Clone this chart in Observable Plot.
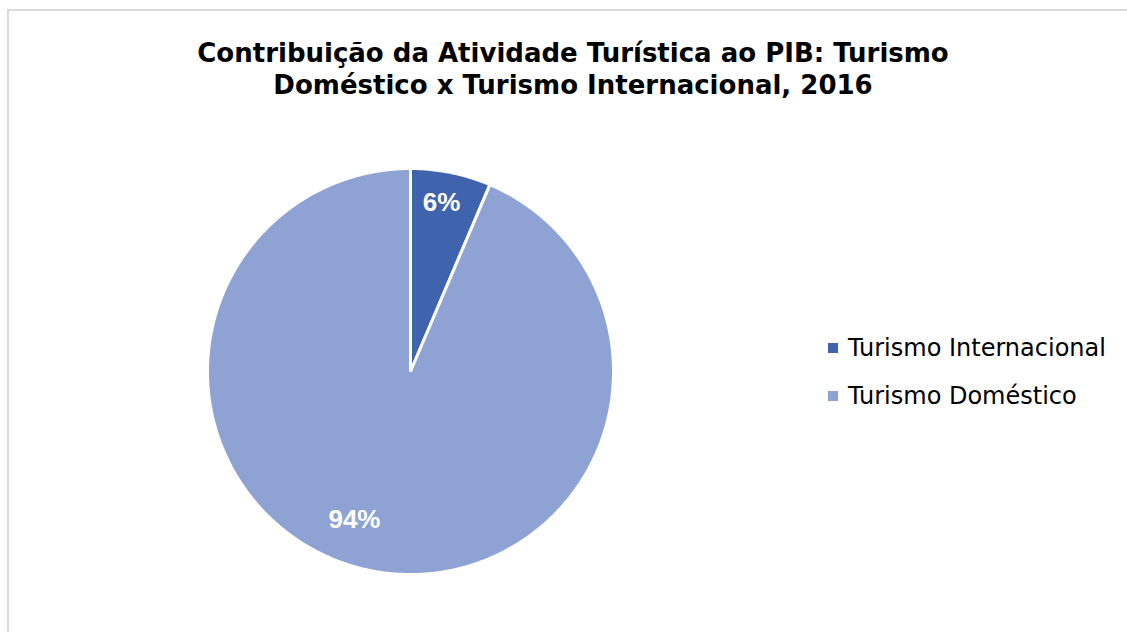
<!DOCTYPE html>
<html><head><meta charset="utf-8">
<script src="https://cdn.jsdelivr.net/npm/d3@7"></script>
<script src="https://cdn.jsdelivr.net/npm/@observablehq/plot@0.6"></script>
<style>
body{margin:0;background:#fff;}
#wrap{position:relative;width:1127px;height:632px;overflow:hidden;font-family:"DejaVu Sans",sans-serif;background:#fff;}
#frame{position:absolute;left:7px;top:9px;width:1140px;height:640px;border:2px solid #d9d9d9;box-sizing:border-box;}
#title{position:absolute;left:0;width:1146px;top:37px;text-align:center;font-weight:bold;font-size:26px;line-height:32px;color:#000;}
#chart{position:absolute;left:200px;top:161px;}
#legend{position:absolute;left:828px;top:324px;font-size:24px;color:#000;}
.item{display:flex;align-items:center;height:48px;}
.sw{width:10px;height:10px;margin-right:10px;}
</style></head>
<body>
<div id="wrap">
  <div id="frame"></div>
  <div id="title">Contribuição da Atividade Turística ao PIB: Turismo<br>Doméstico x Turismo Internacional, 2016</div>
  <div id="chart"></div>
  <div id="legend"></div>
</div>
<script>
const categories = ["Turismo Internacional", "Turismo Doméstico"];
const values = [6.4, 93.6];
const labels = ["6%", "94%"];
const colors = ["#3F63AD", "#8EA3D4"];
const labelNudge = [[-3, -2], [-22, -19]]; // pixel nudges for data labels (style)

const total = d3.sum(values);
const polys = [];
const cents = [];
let acc = 0;
categories.forEach((c, i) => {
  const a0 = acc / total * 2 * Math.PI;
  acc += values[i];
  const a1 = acc / total * 2 * Math.PI;
  polys.push({category: c, x: 0, y: 0});
  const n = Math.max(2, Math.ceil((a1 - a0) / 0.01));
  for (let k = 0; k <= n; k++) {
    const a = a0 + (a1 - a0) * k / n;
    polys.push({category: c, x: Math.sin(a), y: Math.cos(a)});
  }
  const am = (a0 + a1) / 2;
  cents.push({category: c, label: labels[i], x: 0.84 * Math.sin(am), y: 0.84 * Math.cos(am)});
});

const R = 203, S = 420, k = (S / 2) / R;
const plot = Plot.plot({
  width: S, height: S, margin: 0,
  x: {domain: [-k, k], axis: null},
  y: {domain: [-k, k], axis: null},
  color: {domain: categories, range: colors},
  marks: [
    Plot.line(polys, {x: "x", y: "y", z: "category", fill: "category", stroke: "white", strokeWidth: 3, curve: "linear-closed", strokeLinejoin: "miter"}),
    ...cents.map((c, i) => Plot.text([c], {x: "x", y: "y", text: "label", fill: "white", fontSize: 26, fontWeight: "bold",
      fontFamily: "Liberation Sans, Arial, sans-serif", dx: labelNudge[i][0], dy: labelNudge[i][1]}))
  ]
});
document.getElementById("chart").appendChild(plot);

const leg = document.getElementById("legend");
categories.forEach((c, i) => {
  const it = document.createElement("div"); it.className = "item";
  const sw = document.createElement("div"); sw.className = "sw"; sw.style.background = colors[i];
  const tx = document.createElement("span"); tx.textContent = c;
  it.appendChild(sw); it.appendChild(tx); leg.appendChild(it);
});
</script>
</body></html>
